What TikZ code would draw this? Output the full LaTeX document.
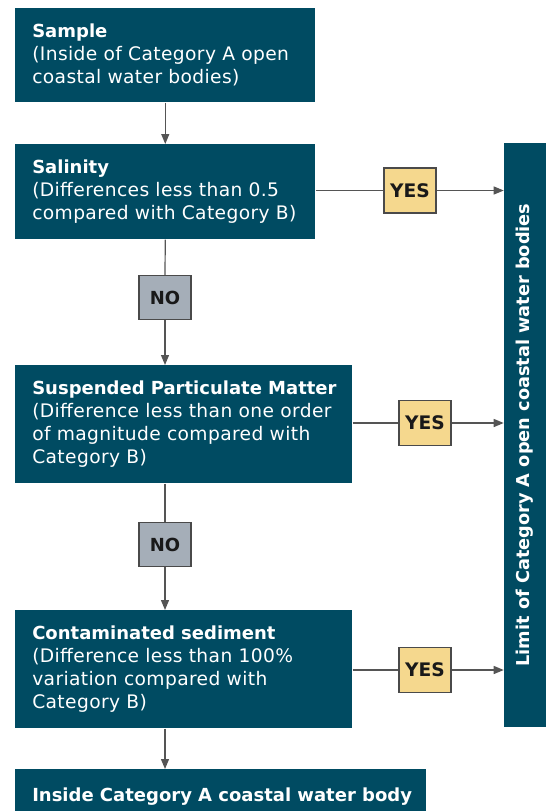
\documentclass[tikz,border=0pt]{standalone}
\usepackage{fontspec}
\setmainfont{DejaVu Sans}[UprightFeatures={LetterSpace=2}]
\usetikzlibrary{arrows.meta,positioning}
\definecolor{teal}{HTML}{004B62}
\definecolor{yesfill}{HTML}{F5D88E}
\definecolor{nofill}{HTML}{A5AEB8}
\definecolor{edgegray}{HTML}{4A4A4A}
\definecolor{lineg}{HTML}{555555}
\newcommand\hd[1]{{\fontsize{13.5}{17.25}\selectfont\bfseries\mbox{#1}}}
\begin{document}
\begin{tikzpicture}[x=0.75pt,y=-0.75pt,
  box/.style={fill=teal,text=white,anchor=north west,align=left,inner xsep=12.75pt,inner ysep=0pt,
    font=\fontsize{14}{17.25}\selectfont},
  yesbox/.style={fill=yesfill,draw=edgegray,line width=0.8pt,minimum width=39pt,minimum height=33.75pt,
    inner sep=0pt,font=\fontsize{14}{16}\selectfont\bfseries,text=black!90},
  nobox/.style={fill=nofill,draw=edgegray,line width=0.8pt,minimum width=39pt,minimum height=33pt,
    inner sep=0pt,font=\fontsize{13.5}{16}\selectfont\bfseries,text=black!90},
  conn/.style={draw=lineg,line width=0.9pt},
  arr/.style={conn,-{Triangle[length=7.5pt,width=6pt]}}]
\useasboundingbox (0,0) rectangle (546,811);
\clip (0,0) rectangle (546,811);

\node[box,minimum width=225pt,minimum height=70.5pt,text width=199.5pt] (b1) at (15,8)
  {\hd{Sample}\\(Inside of Category A open\\coastal water bodies)};
\node[box,minimum width=225pt,minimum height=71.25pt,text width=199.5pt] (b2) at (15,144)
  {\hd{Salinity}\\(Differences less than 0.5\\compared with Category B)};
\node[box,minimum width=252.75pt,minimum height=88.5pt,text width=227.25pt] (b3) at (15,365)
  {\hd{Suspended Particulate Matter}\\(Difference less than one order\\of magnitude compared with\\Category B)};
\node[box,minimum width=252.75pt,minimum height=88.5pt,text width=227.25pt] (b4) at (15,610)
  {\hd{Contaminated sediment}\\(Difference less than 100\%\\variation compared with\\Category B)};
\node[box,minimum width=308.25pt,text width=282.75pt,inner ysep=15pt,text height=9pt,text depth=0pt] (b5) at (15,769)
  {\hd{Inside Category A coastal water body}};

\node[fill=teal,text=white,rotate=90,minimum width=438pt,minimum height=31.5pt,inner sep=0pt,
  font=\fontsize{13.3}{16}\selectfont\bfseries] (bar) at (525,435)
  {Limit of Category A open coastal water bodies};

\node[yesbox] (y1) at (410,190.5) {YES};
\node[yesbox] (y2) at (425,423) {YES};
\node[yesbox] (y3) at (425,670) {YES};
\node[nobox] (n1) at (165,297.5) {NO};
\node[nobox] (n2) at (165,544.5) {NO};

\draw[arr] (b1.south) -- (b2.north);
\draw[conn] (b2.south) -- (n1.north);
\draw[arr] (n1.south) -- (n1.south |- b3.north);
\draw[conn] (n1.south |- b3.south) -- (n2.north);
\draw[arr] (n2.south) -- (n2.south |- b4.north);
\draw[arr] (n2.south |- b4.south) -- (n2.south |- b5.north);

\draw[conn] (b2.east |- y1) -- (y1.west);
\draw[arr] (y1.east) -- (y1 -| bar.north);
\draw[conn] (b3.east |- y2) -- (y2.west);
\draw[arr] (y2.east) -- (y2 -| bar.north);
\draw[conn] (b4.east |- y3) -- (y3.west);
\draw[arr] (y3.east) -- (y3 -| bar.north);
\end{tikzpicture}
\end{document}
